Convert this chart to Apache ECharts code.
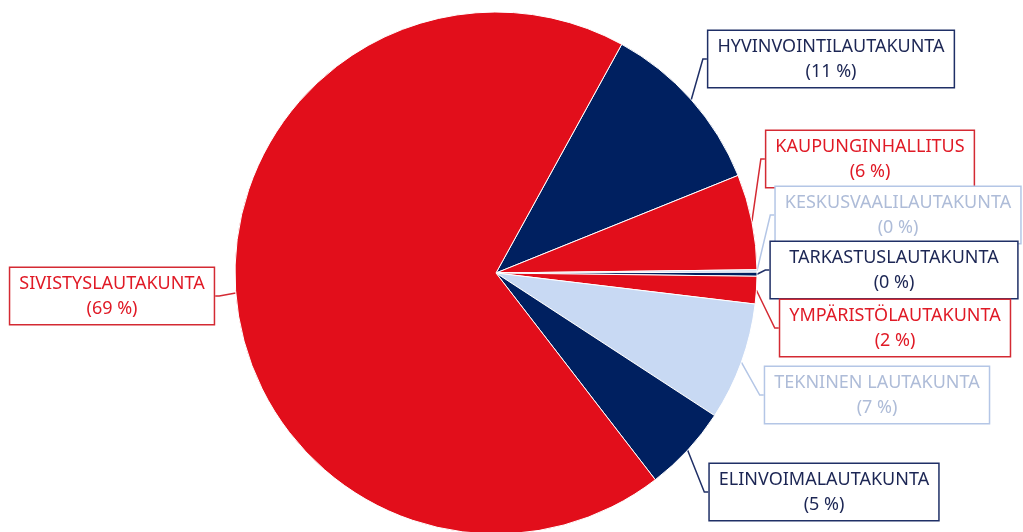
<!DOCTYPE html>
<html>
<head>
  <meta charset="UTF-8">
  <title>Lautakunnat</title>
  <script src="https://cdn.jsdelivr.net/npm/echarts@6/dist/echarts.min.js"></script>
  <style>
    html, body { margin: 0; padding: 0; background: #fff; }
  </style>
</head>
<body>
<div id="main" style="width: 1023px;height:532px;"></div>
<script type="text/javascript">
  // data, clockwise from the top-right edge of the big slice
  var names = ['HYVINVOINTILAUTAKUNTA', 'KAUPUNGINHALLITUS', 'KESKUSVAALILAUTAKUNTA',
    'TARKASTUSLAUTAKUNTA', 'YMPÄRISTÖLAUTAKUNTA', 'TEKNINEN LAUTAKUNTA',
    'ELINVOIMALAUTAKUNTA', 'SIVISTYSLAUTAKUNTA'];
  var shares = [10.9, 5.9, 0.15, 0.25, 1.7, 7.3, 5.35, 68.45];

  var RED = '#e20e1b', NAVY = '#002060', LIGHT = '#c8d9f3';
  var sliceColors = [NAVY, RED, LIGHT, NAVY, RED, LIGHT, NAVY, RED];
  var textColors = { };
  textColors[RED] = '#e01a26';
  textColors[NAVY] = '#1c2654';
  textColors[LIGHT] = '#aebcd8';
  var lineColors = { };
  lineColors[RED] = '#d42a33';
  lineColors[NAVY] = '#1f2f66';
  lineColors[LIGHT] = '#b4c6e6';

  // label box centres (x, y)
  var labelPos = [[831, 59], [870, 159], [898, 215], [894, 270], [895, 328],
    [877, 395], [824, 492], [112, 296]];

  var dataList = names.map(function (n, i) {
    var c = sliceColors[i];
    return {
      name: n,
      value: shares[i],
      itemStyle: { color: c },
      label: { color: textColors[c], borderColor: lineColors[c] },
      labelLine: { lineStyle: { color: lineColors[c] } }
    };
  });

  var myChart = echarts.init(document.getElementById('main'));
  var option = {
    animation: false,
    series: [{
      type: 'pie',
      center: [496, 273],
      radius: 261,
      startAngle: 61.2,
      clockwise: true,
      percentPrecision: 0,
      itemStyle: { borderColor: '#ffffff', borderWidth: 1 },
      label: {
        show: true,
        position: 'outside',
        formatter: '{b}\n({d} %)',
        fontFamily: 'Noto Sans',
        fontSize: 18,
        lineHeight: 25,
        align: 'center',
        overflow: 'none',
        backgroundColor: '#ffffff',
        borderWidth: 1.5,
        padding: [3, 9]
      },
      labelLine: { show: true, length: 8, length2: 4, lineStyle: { width: 1.5 } },
      labelLayout: function (params) {
        var p = labelPos[params.dataIndex];
        return { x: p[0], y: p[1], align: 'center', verticalAlign: 'middle', moveOverlap: false };
      },
      data: dataList
    }]
  };
  myChart.setOption(option);
</script>
</body>
</html>
